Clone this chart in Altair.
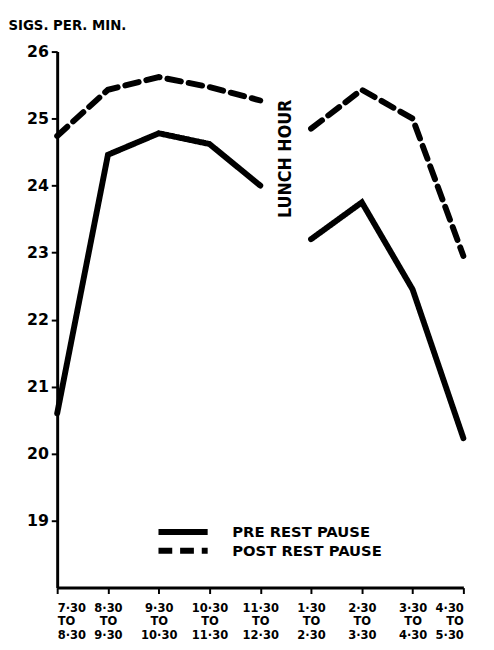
import altair as alt
import pandas as pd

periods = ["7·30|TO|8·30", "8·30|TO|9·30", "9·30|TO|10·30", "10·30|TO|11·30",
           "11·30|TO|12·30", "1·30|TO|2·30", "2·30|TO|3·30", "3·30|TO|4·30", "4·30|TO|5·30"]
pre_rest = [20.6, 24.46, 24.78, 24.62, 24.0, 23.2, 23.75, 22.45, 20.23]
post_rest = [24.74, 25.43, 25.62, 25.47, 25.27, 24.85, 25.43, 25.0, 22.95]
segment = ["morning"] * 5 + ["afternoon"] * 4
series_names = ["PRE REST  PAUSE", "POST REST  PAUSE"]
y_ticks = [19, 20, 21, 22, 23, 24, 25, 26]

rows = []
for i in range(len(periods)):
    rows.append({"idx": i, "value": pre_rest[i], "series": series_names[0], "seg": segment[i]})
    rows.append({"idx": i, "value": post_rest[i], "series": series_names[1], "seg": segment[i]})
df = pd.DataFrame(rows)

label_map = "{" + ",".join(f"{i}: '{p}'" for i, p in enumerate(periods)) + "}"
FONT = "DejaVu Sans Condensed"
WIDE = "DejaVu Sans"

x = alt.X("idx:Q", scale=alt.Scale(domain=[0, 8], nice=False, zero=False),
          axis=alt.Axis(values=list(range(9)), labelExpr=f"split({label_map}[datum.value], '|')",
                        title=None, grid=False, domainWidth=3, domainColor="black",
                        tickColor="black", tickWidth=2, tickSize=6,
                        labelFont=FONT, labelFontWeight="bold", labelFontSize=13,
                        labelColor="black", labelPadding=8, labelLineHeight=14))
y = alt.Y("value:Q", scale=alt.Scale(domain=[18, 26], nice=False, zero=False),
          axis=alt.Axis(values=y_ticks, format="d", grid=False, domainWidth=3,
                        domainColor="black", tickColor="black", tickWidth=2, tickSize=6,
                        labelFont=WIDE, labelFontWeight="bold", labelFontSize=16,
                        labelColor="black", labelPadding=3,
                        title="SIGS. PER. MIN.", titleAngle=0, titleAlign="left",
                        titleBaseline="middle", titleX=-50, titleY=-27,
                        titleFont=FONT, titleFontWeight="bold", titleFontSize=15,
                        titleColor="black"))

lines = alt.Chart(df).mark_line(strokeWidth=6, color="black", strokeCap="round").encode(
    x=x, y=y,
    strokeDash=alt.StrokeDash("series:N", scale=alt.Scale(domain=series_names, range=[[1, 0], [14, 8]]),
                              legend=alt.Legend(title=None, orient="none", legendX=100, legendY=479,
                                                symbolType="stroke", symbolSize=2500,
                                                symbolStrokeWidth=6, symbolStrokeColor="black",
                                                clipHeight=19, rowPadding=0,
                                                labelFont=WIDE, labelFontWeight="bold",
                                                labelFontSize=15, labelColor="black",
                                                labelOffset=22)),
    detail="seg:N",
)

lunch = pd.DataFrame({"idx": [4.5], "value": [24.4], "text": ["LUNCH  HOUR"]})
lunch_text = alt.Chart(lunch).mark_text(angle=270, font=FONT, fontWeight="bold", fontSize=18,
                                        color="black").encode(
    x=alt.X("idx:Q"), y=alt.Y("value:Q"), text="text:N")

chart = alt.layer(lines, lunch_text).properties(
    width=413, height=545,
    autosize=alt.AutoSizeParams(type="none"),
    padding={"left": 50, "top": 39, "right": 23, "bottom": 50},
    background="white",
).configure_view(stroke=None)

chart.save("out.html", embed_options={"renderer": "svg", "actions": False})
